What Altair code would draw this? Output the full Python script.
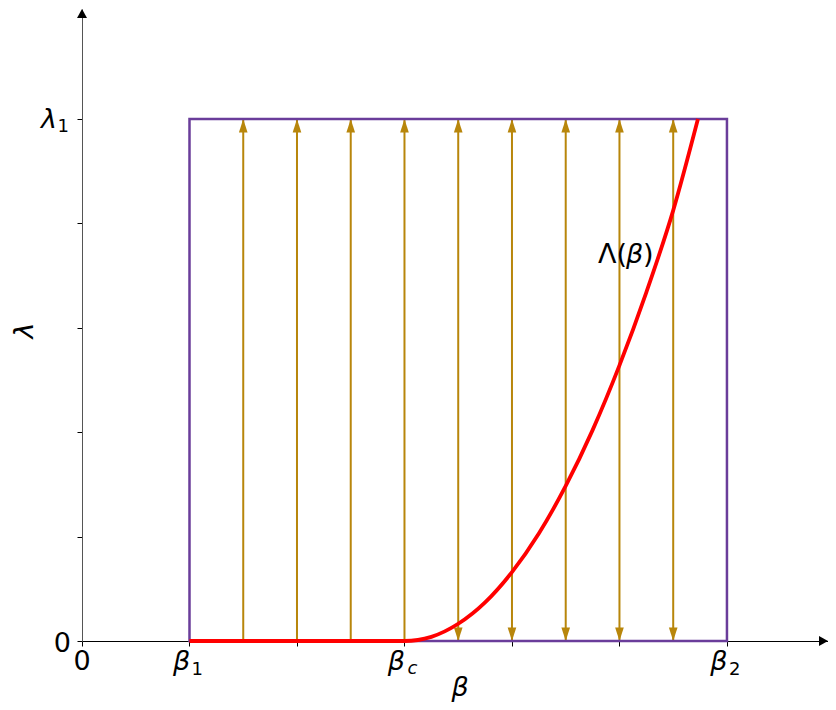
import altair as alt
import pandas as pd

# ---------------- data ----------------
x_ticks = [0, 1, 2, 3, 4, 5, 6]
x_labels_main = ["0", "β", "", "β", "", "", "β"]
x_labels_sub = ["", "1", "", "c", "", "", "2"]

y_ticks = [0, 0.2, 0.4, 0.6, 0.8, 1.0]
y_labels_main = ["0", "", "", "", "", "λ"]
y_labels_sub = ["", "", "", "", "", "1"]

beta_1, beta_c, beta_2 = 1.0, 3.0, 6.0
lambda_1 = 1.0
field_betas = [1.5, 2.0, 2.5, 3.0, 3.5, 4.0, 4.5, 5.0, 5.5]

curve_beta = [1.0, 3.0, 3.25, 3.5, 3.75, 4.0, 4.25, 4.5, 4.75, 5.0, 5.25, 5.5, 5.73]
curve_lam = [0.0, 0.0, 0.008, 0.033, 0.074, 0.132, 0.206, 0.297, 0.404, 0.528, 0.668, 0.825, 1.0]

curve_label_parts = ["Λ(", "β", ")"]
curve_label_pos = (4.8, 0.724)

# ---------------- layout / style ----------------
XMAX, YMAX = 6.94, 1.2107
W, H = 746, 632
FONT = "DejaVu Sans"
GOLD, PURPLE, RED = "#b8860b", "#6a3d9a", "#ff0000"
FS, FS_SUB = 27, 18

xs = alt.Scale(domain=[0, XMAX], nice=False, zero=False)
ys = alt.Scale(domain=[0, YMAX], nice=False, zero=False)

x_axis = alt.Axis(values=x_ticks, labels=False, grid=False, tickSize=5, tickColor="black",
                  tickWidth=1, domainColor="black", domainWidth=1,
                  title="β", titleFont=FONT, titleFontSize=FS, titleFontStyle="italic",
                  titleFontWeight="normal", titleColor="black", titleX=377.5, titleY=54,
                  titleBaseline="alphabetic", titleAlign="center")
y_axis = alt.Axis(values=y_ticks, labels=False, grid=False, tickSize=5, tickColor="black",
                  tickWidth=1, domainColor="#555555", domainWidth=1,
                  title="λ", titleFont=FONT, titleFontSize=FS, titleFontStyle="italic",
                  titleFontWeight="normal", titleColor="black", titleAngle=270,
                  titleX=-50, titleY=321, titleBaseline="alphabetic", titleAlign="center")


def X(f="b"):
    return alt.X(f"{f}:Q", scale=xs, axis=x_axis)


def Y(f="lam"):
    return alt.Y(f"{f}:Q", scale=ys, axis=y_axis)


# gold field lines
lines_df = pd.DataFrame({"b": field_betas, "lam": [0.0] * len(field_betas),
                         "lam2": [lambda_1] * len(field_betas)})
gold_lines = alt.Chart(lines_df).mark_rule(color=GOLD, strokeWidth=2).encode(
    x=X(), y=Y(), y2=alt.Y2("lam2:Q"))

up_df = pd.DataFrame({"b": field_betas, "lam": [lambda_1] * len(field_betas)})
down_b = [b for b in field_betas if b > beta_c]
down_df = pd.DataFrame({"b": down_b, "lam": [0.0] * len(down_b)})
UP = "M0,0L-0.32,1L0.32,1Z"
DOWN = "M0,0L-0.32,-1L0.32,-1Z"
up_heads = alt.Chart(up_df).mark_point(shape=UP, size=729, filled=True, color=GOLD,
                                       opacity=1, strokeWidth=0).encode(x=X(), y=Y())
down_heads = alt.Chart(down_df).mark_point(shape=DOWN, size=729, filled=True, color=GOLD,
                                           opacity=1, strokeWidth=0).encode(x=X(), y=Y())

# purple box
box_df = pd.DataFrame({"b": [beta_1], "b2": [beta_2], "lam": [0.0], "lam2": [lambda_1]})
box = alt.Chart(box_df).mark_rect(filled=False, stroke=PURPLE, strokeWidth=2.5).encode(
    x=X(), x2=alt.X2("b2:Q"), y=Y(), y2=alt.Y2("lam2:Q"))

# red curve
curve_df = pd.DataFrame({"b": curve_beta, "lam": curve_lam})
curve = alt.Chart(curve_df).mark_line(color=RED, strokeWidth=3.8, interpolate="monotone").encode(
    x=X(), y=Y())

# axis arrows
xarrow = alt.Chart(pd.DataFrame({"b": [XMAX], "lam": [0.0]})).mark_point(
    shape="M0,0L-0.9,-0.5L-0.9,0.5Z", size=400, filled=True, color="black", opacity=1,
    strokeWidth=0, clip=False).encode(x=X(), y=Y())
yarrow = alt.Chart(pd.DataFrame({"b": [0.0], "lam": [YMAX]})).mark_point(
    shape="M0,0L-0.5,0.9L0.5,0.9Z", size=400, filled=True, color="black", opacity=1,
    strokeWidth=0, clip=False).encode(x=X(), y=Y())


def text_layer(df, col, size, style, dx, dy, align):
    d = df[df[col] != ""]
    return alt.Chart(d).mark_text(font=FONT, fontSize=size, fontStyle=style, color="black",
                                  dx=dx, dy=dy, align=align, baseline="alphabetic").encode(
        x=X(), y=Y(), text=f"{col}:N")


xl = pd.DataFrame({"b": x_ticks, "lam": [0.0] * len(x_ticks),
                   "zero": [t if t == "0" else "" for t in x_labels_main],
                   "greek": [t if t == "β" else "" for t in x_labels_main],
                   "digit": [t if t.isdigit() else "" for t in x_labels_sub],
                   "letter": [t if t.isalpha() else "" for t in x_labels_sub]})
yl = pd.DataFrame({"b": [0.0] * len(y_ticks), "lam": y_ticks,
                   "zero": [t if t == "0" else "" for t in y_labels_main],
                   "greek": [t if t == "λ" else "" for t in y_labels_main],
                   "digit": y_labels_sub})

labels = [
    text_layer(xl, "zero", FS, "normal", 0, 29, "center"),
    text_layer(xl, "greek", FS, "italic", -8, 29, "center"),
    text_layer(xl, "digit", FS_SUB, "normal", 2, 34, "left"),
    text_layer(xl, "letter", FS_SUB, "italic", 3, 33, "left"),
    text_layer(yl, "zero", FS, "normal", -11, 11, "right"),
    text_layer(yl, "greek", FS, "italic", -25, 9, "right"),
    text_layer(yl, "digit", FS_SUB, "normal", -13, 13, "right"),
]

lab_df = pd.DataFrame({"b": [curve_label_pos[0]], "lam": [curve_label_pos[1]],
                       "p0": [curve_label_parts[0]], "p1": [curve_label_parts[1]],
                       "p2": [curve_label_parts[2]]})
curve_text = [
    text_layer(lab_df, "p0", FS, "normal", 0, 0, "left"),
    text_layer(lab_df, "p1", FS, "italic", 28, 0, "left"),
    text_layer(lab_df, "p2", FS, "normal", 45, 0, "left"),
]

chart = alt.layer(gold_lines, up_heads, down_heads, box, curve, xarrow, yarrow,
                  *labels, *curve_text).properties(
    width=W, height=H,
    autosize=alt.AutoSizeParams(type="none"),
    padding={"left": 74, "top": 1, "right": 0, "bottom": 61},
).configure_view(stroke=None)

chart.save("out.html", embed_options={"renderer": "svg", "actions": False})
